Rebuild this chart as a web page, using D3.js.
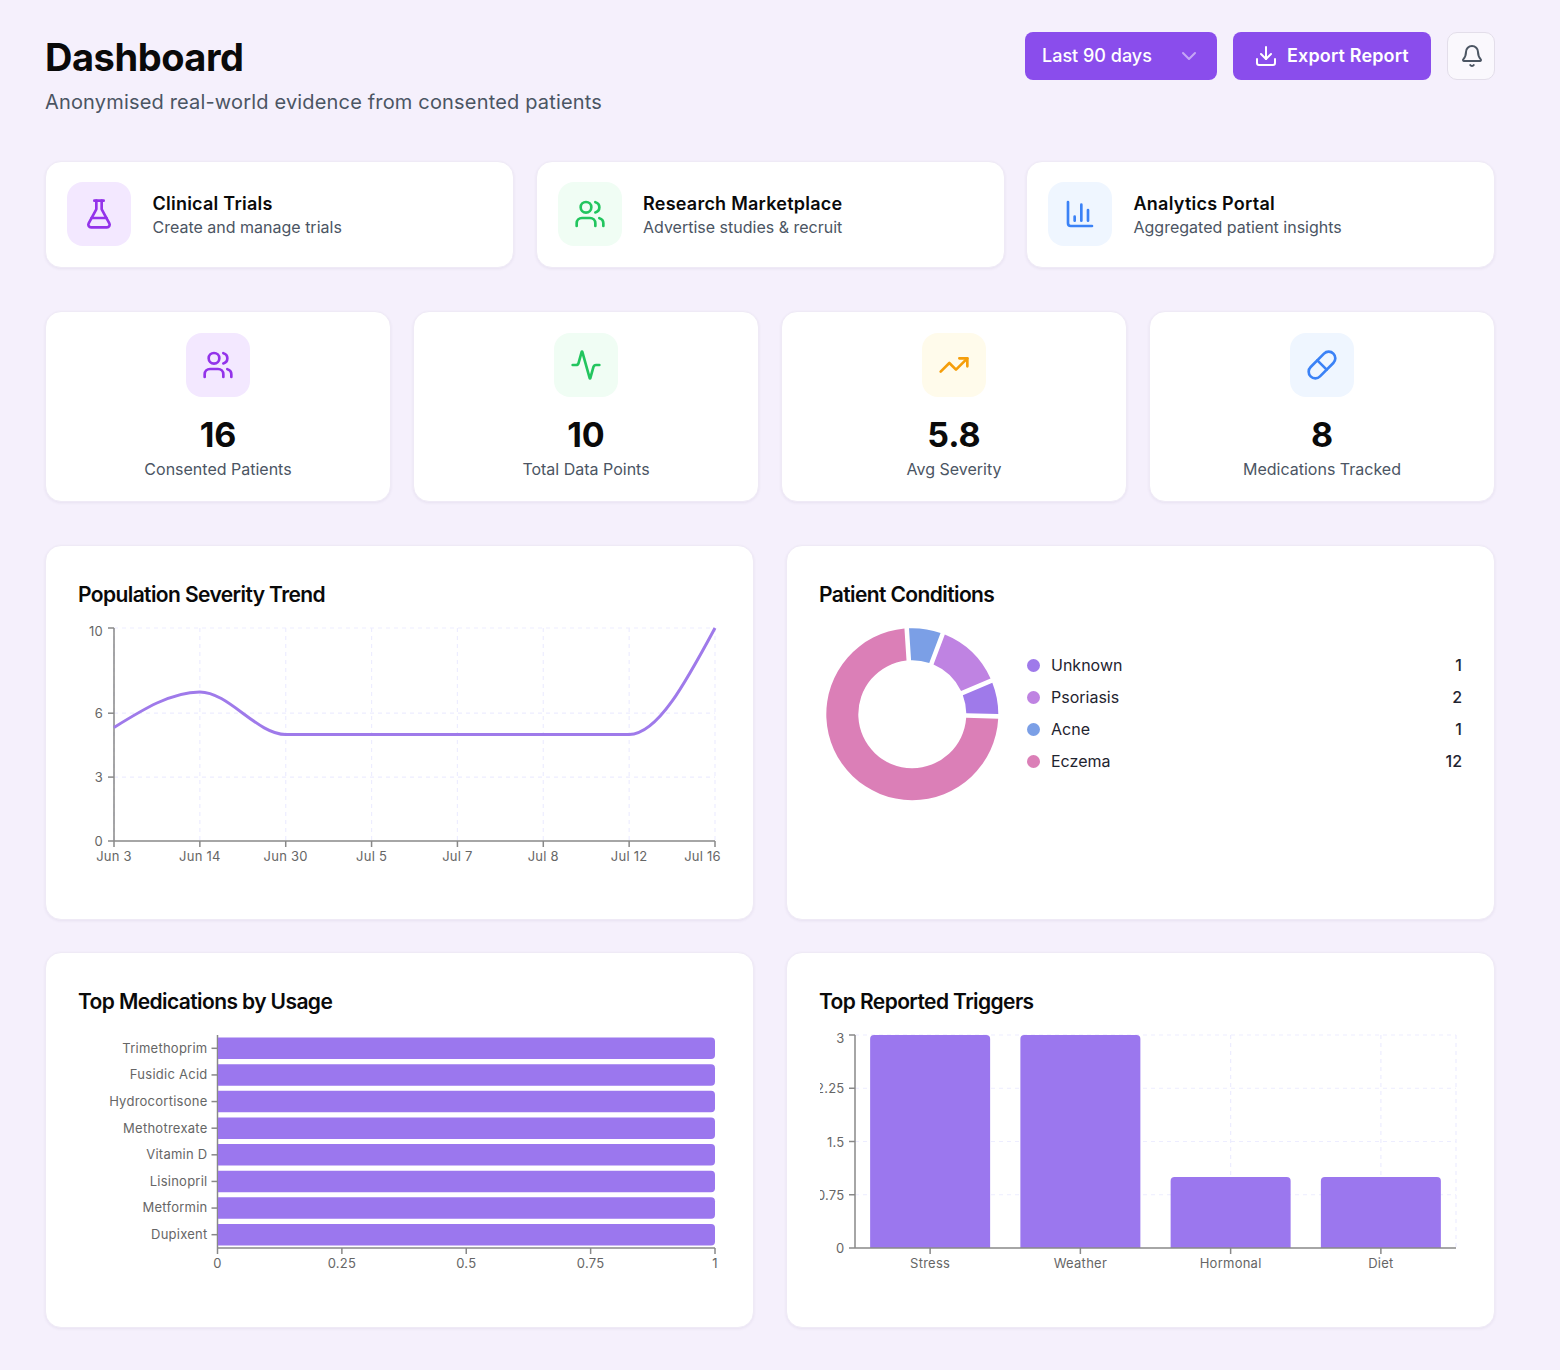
<!DOCTYPE html>
<html><head><meta charset="utf-8">
<script src="https://cdn.jsdelivr.net/npm/d3@7"></script>
<style>
*{box-sizing:border-box}
html,body{margin:0;padding:0;background:#f5f0fc;font-family:Inter,"Noto Sans",sans-serif;width:1560px;height:1370px;overflow:hidden}
#page{position:relative;width:1560px;height:1370px}
.abs{position:absolute}
.card{position:absolute;background:#fff;border:1px solid #efeaf6;border-radius:16px;box-shadow:0 1px 3px rgba(60,40,100,.07)}
.ic{position:absolute;width:64px;height:64px;border-radius:16px;display:flex;align-items:center;justify-content:center}
.t{position:absolute;white-space:nowrap}
svg.lu{fill:none;stroke-linecap:round;stroke-linejoin:round}
.chart{position:absolute;overflow:hidden}
.chart text{font-family:Inter,"Noto Sans",sans-serif;font-size:13px;fill:#666;letter-spacing:.25px}
.chart .domain,.chart .tick line{stroke:#888;stroke-width:1.5}
.grid line{stroke:#ededff;stroke-width:1.2;stroke-dasharray:4 4}
</style></head><body><div id="page"></div>
<script>
// ---------- data ----------
const trendDates=["Jun 3","Jun 14","Jun 30","Jul 5","Jul 7","Jul 8","Jul 12","Jul 16"];
const trendValues=[5.33,7,5,5,5,5,5,10];
const trendTicks=[0,3,6,10];
const conditionNames=["Unknown","Psoriasis","Acne","Eczema"];
const conditionCounts=[1,2,1,12];
const conditionColors=["#9f7aea","#bf83e2","#7b9fe6","#db7fb7"];
const medNames=["Trimethoprim","Fusidic Acid","Hydrocortisone","Methotrexate","Vitamin D","Lisinopril","Metformin","Dupixent"];
const medCounts=[1,1,1,1,1,1,1,1];
const medTicks=[0,0.25,0.5,0.75,1];
const triggerNames=["Stress","Weather","Hormonal","Diet"];
const triggerCounts=[3,3,1,1];
const triggerTicks=[0,0.75,1.5,2.25,3];
const navTitles=["Clinical Trials","Research Marketplace","Analytics Portal"];
const navSubs=["Create and manage trials","Advertise studies & recruit","Aggregated patient insights"];
const statValues=["16","10","5.8","8"];
const statLabels=["Consented Patients","Total Data Points","Avg Severity","Medications Tracked"];

// ---------- icons ----------
const I={
 flask:["M14 2v6a2 2 0 0 0 .245.96l5.51 10.08A2 2 0 0 1 18 22H6a2 2 0 0 1-1.755-2.96l5.51-10.08A2 2 0 0 0 10 8V2","M6.453 15h11.094","M8.5 2h7"],
 users:["M16 21v-2a4 4 0 0 0-4-4H6a4 4 0 0 0-4 4v2","M13 7a4 4 0 1 1-8 0 4 4 0 0 1 8 0","M22 21v-2a4 4 0 0 0-3-3.87","M16 3.13a4 4 0 0 1 0 7.75"],
 chart:["M3 3v16a2 2 0 0 0 2 2h16","M18 17V9","M13 17V5","M8 17v-3"],
 activity:["M22 12h-2.48a2 2 0 0 0-1.93 1.46l-2.35 8.36a.25.25 0 0 1-.48 0L9.24 2.18a.25.25 0 0 0-.48 0l-2.35 8.36A2 2 0 0 1 4.49 12H2"],
 trend:["M22 7 13.5 15.5 8.5 10.5 2 17","M16 7h6v6"],
 pill:["m10.5 20.5 10-10a4.95 4.95 0 1 0-7-7l-10 10a4.95 4.95 0 1 0 7 7Z","m8.5 8.5 7 7"],
 download:["M21 15v4a2 2 0 0 1-2 2H5a2 2 0 0 1-2-2v-4","M7 10l5 5 5-5","M12 15V3"],
 bell:["M10.268 21a2 2 0 0 0 3.464 0","M3.262 15.326A1 1 0 0 0 4 17h16a1 1 0 0 0 .74-1.673C19.41 13.956 18 12.499 18 8A6 6 0 0 0 6 8c0 4.499-1.411 5.956-2.738 7.326"],
 chev:["m6 9 6 6 6-6"]
};
function icon(parent,name,size,color,sw,style){
 const s=parent.append("svg").attr("class","lu").attr("viewBox","0 0 24 24").attr("width",size).attr("height",size)
  .attr("stroke",color).attr("stroke-width",sw);
 if(style) s.attr("style",style);
 I[name].forEach(d=>s.append("path").attr("d",d));
 return s;
}
const page=d3.select("#page");
function text(x,y,str,size,weight,color,opts={}){
 const el=page.append("div").attr("class","t").text(str)
  .style("top",(y-size)+"px").style("line-height",(size*2)+"px").style("font-size",size+"px")
  .style("font-weight",weight).style("color",color);
 if(opts.center!==undefined){el.style("left",(opts.center-300)+"px").style("width","600px").style("text-align","center");}
 else if(opts.right!==undefined){el.style("left",(opts.right-300)+"px").style("width","300px").style("text-align","right");}
 else el.style("left",x+"px");
 if(opts.ls) el.style("letter-spacing",opts.ls);
 return el;
}
function box(x,y,w,h){return page.append("div").attr("class","card").style("left",x+"px").style("top",y+"px").style("width",w+"px").style("height",h+"px");}
function iconBox(x,y,bg,name,color){
 const b=page.append("div").attr("class","ic").style("left",x+"px").style("top",y+"px").style("background",bg);
 icon(b,name,32,color,2);
}

// ---------- header ----------
text(45,57,"Dashboard",38,700,"#0a0a0a",{ls:"-0.45px"});
text(45,102,"Anonymised real-world evidence from consented patients",20,400,"#4b5563",{ls:"0.17px"});
page.append("div").attr("class","abs").style("left","1025px").style("top","32px").style("width","192px").style("height","48px").style("background","#8a4dec").style("border-radius","8px");
text(1042,56,"Last 90 days",18,500,"#fff");
icon(page,"chev",24,"rgba(255,255,255,.5)",2,"position:absolute;left:1177px;top:44px");
page.append("div").attr("class","abs").style("left","1233px").style("top","32px").style("width","198px").style("height","48px").style("background","#8a4dec").style("border-radius","8px");
icon(page,"download",24,"#fff",2,"position:absolute;left:1254px;top:43.5px");
text(1287,56,"Export Report",18,600,"#fff",{ls:"0.15px"});
page.append("div").attr("class","abs").style("left","1447px").style("top","32px").style("width","48px").style("height","48px").style("background","#faf8fd").style("border","1px solid #e3deea").style("border-radius","10px");
icon(page,"bell",24,"#4b5563",2,"position:absolute;left:1459.5px;top:44px");

// ---------- nav cards ----------
const navX=[45,535.5,1026],navIc=["flask","users","chart"],navCol=["#9333ea","#22c55e","#3b82f6"],navBg=["#f3e8ff","#f0fdf4","#eff6ff"];
navTitles.forEach((t,i)=>{
 box(navX[i],161,469,107);
 iconBox(navX[i]+22,182,navBg[i],navIc[i],navCol[i]);
 text(navX[i]+107.5,203.5,t,18,600,"#0a0a0a",{ls:"0.24px"});
 text(navX[i]+107.5,227,navSubs[i],16,400,"#4b5563");
});

// ---------- stat cards ----------
const statX=[45,413,781,1149],statIc=["users","activity","trend","pill"],statCol=["#9333ea","#22c55e","#f59e0b","#3b82f6"],statBg=["#f3e8ff","#f0fdf4","#fffbeb","#eff6ff"];
statValues.forEach((v,i)=>{
 box(statX[i],311,346,191);
 iconBox(statX[i]+141,333,statBg[i],statIc[i],statCol[i]);
 text(0,435,v,34,700,"#0a0a0a",{center:statX[i]+173});
 text(0,469,statLabels[i],16,400,"#4b5563",{center:statX[i]+173});
});

// ---------- chart cards ----------
[[45,545,709,375,"Population Severity Trend"],[786,545,709,375,"Patient Conditions"],[45,952,709,376,"Top Medications by Usage"],[786,952,709,376,"Top Reported Triggers"]]
.forEach(c=>{box(c[0],c[1],c[2],c[3]);text(c[0]+33,c[1]+50,c[4],21,600,"#0a0a0a",{ls:"-0.6px"});});

function chartSvg(x,y,w,h){
 return page.append("svg").attr("class","chart").style("left",x+"px").style("top",y+"px").attr("width",w).attr("height",h);
}
function grid(g,hs,vs,x0,x1,y0,y1){
 const gg=g.append("g").attr("class","grid");
 gg.selectAll("line.h").data(hs).join("line").attr("x1",x0).attr("x2",x1).attr("y1",d=>d).attr("y2",d=>d);
 gg.selectAll("line.v").data(vs).join("line").attr("y1",y0).attr("y2",y1).attr("x1",d=>d).attr("x2",d=>d);
}
function yLabels(ax,topVal){
 ax.selectAll("text").attr("dy","0.4em");
 ax.selectAll(".tick").filter(d=>d===topVal).select("text").attr("dy","0.6em");
}

// ---------- line chart ----------
(function(){
 const s=chartSvg(78,610,660,270);
 const x=d3.scalePoint().domain(trendDates).range([36,637]);
 const y=d3.scaleLinear().domain([0,10]).range([231,18]);
 grid(s,trendTicks.filter(d=>d>0).map(y),trendDates.map(x),36,637,18,231);
 const ay=s.append("g").attr("transform","translate(36,0)").call(d3.axisLeft(y).offset(0).tickValues(trendTicks).tickSize(6).tickSizeOuter(0).tickPadding(5));
 yLabels(ay,10);
 const ax=s.append("g").attr("transform","translate(0,231)").call(d3.axisBottom(x).offset(0).tickSize(6).tickSizeOuter(0).tickPadding(5));
 ax.selectAll(".tick").filter(d=>d==="Jul 16").select("text").attr("x",-12.5);
 s.append("path").attr("fill","none").attr("stroke","#9f7aea").attr("stroke-width",3)
  .attr("d",d3.line().x((d,i)=>x(trendDates[i])).y(d=>y(d)).curve(d3.curveMonotoneX)(trendValues));
})();

// ---------- donut ----------
(function(){
 const s=chartSvg(820,622,190,190);
 const g=s.append("g").attr("transform","translate(92.3,92.2)");
 const pie=d3.pie().sort(null).startAngle(Math.PI/2+0.025).endAngle(Math.PI/2+0.025-2*Math.PI).padAngle(0.045);
 const arc=d3.arc().innerRadius(54).outerRadius(86);
 g.selectAll("path").data(pie(conditionCounts)).join("path").attr("d",arc).attr("fill",(d,i)=>conditionColors[i]);
 conditionNames.forEach((n,i)=>{
  const yy=665+i*32;
  page.append("div").attr("class","abs").style("left","1026.5px").style("top",(yy-6.5)+"px").style("width","13px").style("height","13px").style("border-radius","50%").style("background",conditionColors[i]);
  text(1051,yy,n,16,400,"#1f2430");
  text(0,yy,String(conditionCounts[i]),16,500,"#1f2430",{right:1462});
 });
})();

// ---------- medications ----------
(function(){
 const s=chartSvg(78,1020,660,270);
 const x=d3.scaleLinear().domain([0,1]).range([139.5,637]);
 const y=d3.scaleBand().domain(medNames).range([15,228]);
 const barH=21.5;
 const ay=s.append("g").attr("transform","translate(139.5,0)").call(d3.axisLeft(y).offset(0).tickSize(6).tickSizeOuter(0).tickPadding(4));
 ay.selectAll("text").attr("dy","0.34em");
 s.append("g").attr("transform","translate(0,228)").call(d3.axisBottom(x).offset(0).tickValues(medTicks).tickFormat(d=>String(d)).tickSize(6).tickSizeOuter(0).tickPadding(5));
 s.selectAll("path.bar").data(medCounts).join("path").attr("class","bar").attr("fill","#9b77ee")
  .attr("d",(d,i)=>{
    const x0=x(0)+0.5,x1=x(d),y0=y(medNames[i])+(y.bandwidth()-barH)/2,r=4;
    const p=d3.path();p.moveTo(x0,y0);p.lineTo(x1-r,y0);p.arcTo(x1,y0,x1,y0+r,r);p.lineTo(x1,y0+barH-r);p.arcTo(x1,y0+barH,x1-r,y0+barH,r);p.lineTo(x0,y0+barH);p.closePath();return p.toString();
  });
})();

// ---------- triggers ----------
(function(){
 const s=chartSvg(820,1020,660,270);
 const x=d3.scaleBand().domain(triggerNames).range([35,636]);
 const y=d3.scaleLinear().domain([0,3]).range([228,15]);
 const barW=120;
 grid(s,triggerTicks.filter(d=>d>0).map(y),triggerNames.map(d=>x(d)+x.bandwidth()/2).concat([636]),35,636,15,228);
 s.selectAll("path.bar").data(triggerCounts).join("path").attr("class","bar").attr("fill","#9b77ee")
  .attr("d",(d,i)=>{
    const c=x(triggerNames[i])+x.bandwidth()/2,x0=c-barW/2,x1=c+barW/2,y0=y(d),yb=y(0),r=4;
    const p=d3.path();p.moveTo(x0,yb);p.lineTo(x0,y0+r);p.arcTo(x0,y0,x0+r,y0,r);p.lineTo(x1-r,y0);p.arcTo(x1,y0,x1,y0+r,r);p.lineTo(x1,yb);p.closePath();return p.toString();
  });
 const ay=s.append("g").attr("transform","translate(35,0)").call(d3.axisLeft(y).offset(0).tickValues(triggerTicks).tickFormat(d=>String(d)).tickSize(6).tickSizeOuter(0).tickPadding(4.5));
 yLabels(ay,3);
 s.append("g").attr("transform","translate(0,228)").call(d3.axisBottom(x).offset(0).tickSize(6).tickSizeOuter(0).tickPadding(5));
})();
</script></body></html>
